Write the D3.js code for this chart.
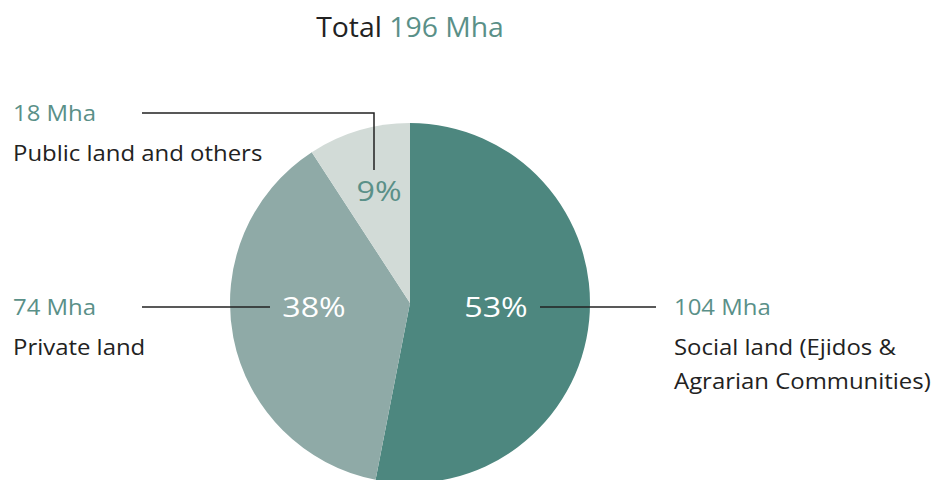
<!DOCTYPE html>
<html>
<head>
<meta charset="utf-8">
<script src="https://cdn.jsdelivr.net/npm/d3@7"></script>
<style>
  body { margin: 0; background: #fff; }
  text { font-family: "Open Sans", "Noto Sans", sans-serif; }
</style>
</head>
<body>
<script>
var width = 947;
var height = 480;

// data
var categories = ["Social land (Ejidos & Agrarian Communities)", "Private land", "Public land and others"];
var values = [104, 74, 18];
var percents = ["53%", "38%", "9%"];
var valueLabels = ["104 Mha", "74 Mha", "18 Mha"];
var total = 196;

var color = ["#4d877f", "#8faaa7", "#d2dbd7"];
var teal = "#5a9088";

var svg = d3.select("body")
            .append("svg")
            .attr("width", width)
            .attr("height", height);

// text drawn a bit wider, like the original
function label(x, y, sx, size) {
    return svg.append("text")
              .attr("transform", "translate(" + x + "," + y + ") scale(" + sx + ",1)")
              .attr("font-size", size + "px");
}

// title
var title = label(410, 37, 1.05, 27).attr("text-anchor", "middle").attr("fill", "#222");
title.append("tspan").text("Total ");
title.append("tspan").attr("fill", teal).text(total + " Mha");

var cx = 410, cy = 303, r = 180;

var pie = d3.pie().sort(null).value(function(d) { return d; });
var arc = d3.arc().innerRadius(0).outerRadius(r);
var arcs = pie(values);

var g = svg.append("g").attr("transform", "translate(" + cx + "," + cy + ")");

g.selectAll("path")
 .data(arcs)
 .enter()
 .append("path")
 .attr("d", arc)
 .attr("fill", function(d, i) { return color[i]; });

// leader lines
var lc = "#222";
svg.append("line").attr("x1", 540).attr("y1", 307).attr("x2", 656).attr("y2", 307)
   .attr("stroke", lc).attr("stroke-width", 1.5);
svg.append("line").attr("x1", 142).attr("y1", 307).attr("x2", 270).attr("y2", 307)
   .attr("stroke", lc).attr("stroke-width", 1.5);
svg.append("polyline").attr("points", "142,113 374,113 374,170")
   .attr("fill", "none").attr("stroke", lc).attr("stroke-width", 1.5);

// percentages
var pctPos = [[496, 317], [314, 317], [379, 201]];
var pctFill = ["#fff", "#fff", teal];
percents.forEach(function(p, i) {
    label(pctPos[i][0], pctPos[i][1], 1.15, 28)
        .attr("text-anchor", "middle")
        .attr("fill", pctFill[i])
        .text(p);
});

// side labels
var labelPos = [[674, 315], [13, 315], [13, 121]];
var nameLines = [["Social land (Ejidos &", "Agrarian Communities)"], ["Private land"], ["Public land and others"]];

labelPos.forEach(function(p, i) {
    label(p[0], p[1], 1.14, 21).attr("fill", teal).text(valueLabels[i]);
    nameLines[i].forEach(function(t, j) {
        label(p[0], p[1] + 40 + j * 34, 1.14, 21).attr("fill", "#222").text(t);
    });
});
</script>
</body>
</html>
